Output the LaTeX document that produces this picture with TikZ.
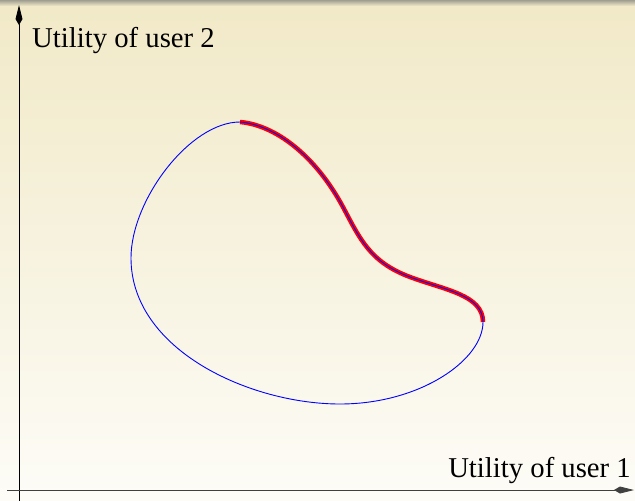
\documentclass[tikz,border=0pt]{standalone}
\usepackage{fontspec}
\setmainfont{Liberation Serif}
\usetikzlibrary{arrows.meta}
\definecolor{bgtop}{RGB}{241,233,199}
\definecolor{bgbot}{RGB}{253,252,247}
\definecolor{shadow}{RGB}{160,158,145}
\tikzset{
  axis/.style={line width=0.9pt,-{Kite[length=20pt,width=7pt,inset=6pt]}},
  lbl/.style={inner sep=0pt,font=\fontsize{28.7}{34}\selectfont},
  regioncurve/.style={blue,line width=0.9pt},
  paretocurve/.style={red,line width=4.5pt},
}
\begin{document}
\begin{tikzpicture}[x=1pt,y=-1pt]
\useasboundingbox (0,0) rectangle (635,501);
\shade[top color=bgtop,bottom color=bgbot] (0,0) rectangle (635,501);
\shade[top color=shadow,bottom color=bgtop] (0,0) rectangle (635,6);
% curve points
\coordinate (p1) at (240,122);
\coordinate (p2) at (343,207);
\coordinate (p3) at (410,277);
\coordinate (p4) at (483,322);
\coordinate (p5) at (340,404);
\coordinate (p6) at (131,258);
% Pareto part
\draw[paretocurve] (p1) .. controls (275,125) and (315,155) .. (p2)
  .. controls (360,239) and (370,262) .. (p3)
  .. controls (445,290) and (483,295) .. (p4);
% whole region boundary
\draw[regioncurve] (p1) .. controls (275,125) and (315,155) .. (p2)
  .. controls (360,239) and (370,262) .. (p3)
  .. controls (445,290) and (483,295) .. (p4)
  .. controls (483,360) and (420,404) .. (p5)
  .. controls (250,404) and (131,350) .. (p6)
  .. controls (131,200) and (190,122) .. (p1) -- cycle;
% axes
\coordinate (o1) at (19,501);
\coordinate (yt) at (19,5);
\coordinate (o2) at (7,490);
\coordinate (xt) at (634,490);
\draw[axis,black] (o1) -- (yt);
\draw[axis,black!75] (o2) -- (xt);
\node[lbl,anchor=base west] (ly) at (32,47) {Utility of user 2};
\node[lbl,anchor=base east] (lx) at (631,477) {Utility of user 1};
\end{tikzpicture}
\end{document}
